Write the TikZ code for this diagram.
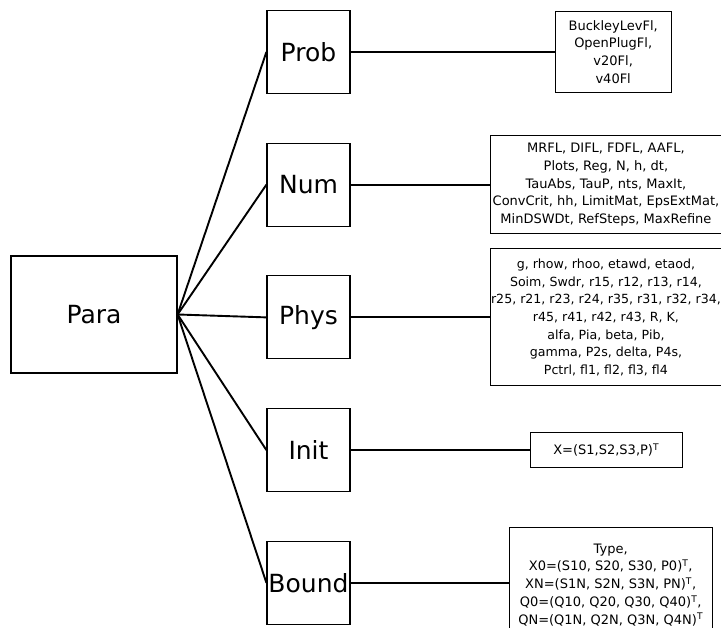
\documentclass[tikz,border=0pt]{standalone}
\usepackage{fontspec}
\setmainfont{DejaVu Sans}
\usetikzlibrary{positioning}

\begin{document}
\begin{tikzpicture}[
    x=1pt,y=1pt,
    node distance=48.5pt and 139pt,
    base/.style={draw=black,line width=1.2pt,inner sep=0pt,align=center},
    cat/.style={base,minimum width=83pt,minimum height=83pt,font=\fontsize{25}{30}\selectfont},
    info/.style={base,minimum width=#1,font=\fontsize{13}{17.7}\selectfont},
    link/.style={line width=1.9pt,black}
]
\path[use as bounding box,clip] (0,0) rectangle (721,628);

\node[cat,minimum width=166pt,minimum height=117pt] (para) at (94,313.5) {Para};
\node[cat] (prob) at (308.5,576) {Prob};
\node[cat,below=of prob] (num) {Num};
\node[cat,below=of num] (phys) {Phys};
\node[cat,below=of phys] (init) {Init};
\node[cat,below=of init] (bound) {Bound};

\node[info=116pt,minimum height=81pt,right=204pt of prob] (probtxt) {BuckleyLevFl,\\OpenPlugFl,\\v20Fl,\\v40Fl};
\node[info=231.5pt,minimum height=98pt,right=of num] (numtxt) {MRFL, DIFL, FDFL, AAFL,\\Plots, Reg, N, h, dt,\\TauAbs, TauP, nts, MaxIt,\\ConvCrit, hh, LimitMat, EpsExtMat,\\MinDSWDt, RefSteps, MaxRefine};
\node[info=231.5pt,minimum height=137pt,right=of phys,font=\fontsize{12.6}{17.7}\selectfont] (phystxt) {g, rhow, rhoo, etawd, etaod,\\Soim, Swdr, r15, r12, r13, r14,\\r25, r21, r23, r24, r35, r31, r32, r34,\\r45, r41, r42, r43, R, K,\\alfa, Pia, beta, Pib,\\gamma, P2s, delta, P4s,\\Pctrl, fl1, fl2, fl3, fl4};
\node[info=152pt,minimum height=35pt,right=179pt of init] (inittxt) {X=(S1,S2,S3,P)\textsuperscript{T}};
\node[info=203pt,minimum height=115pt,right=158pt of bound,yshift=-2pt] (boundtxt) {Type,\\X0=(S10, S20, S30, P0)\textsuperscript{T},\\XN=(S1N, S2N, S3N, PN)\textsuperscript{T},\\Q0=(Q10, Q20, Q30, Q40)\textsuperscript{T},\\QN=(Q1N, Q2N, Q3N, Q4N)\textsuperscript{T}};

\draw[link] (para.east) -- (prob.west);
\draw[link] (para.east) -- (num.west);
\draw[link] (para.east) -- (phys.west);
\draw[link] (para.east) -- (init.west);
\draw[link] (para.east) -- (bound.west);

\draw[link] (prob) -- (probtxt);
\draw[link] (num) -- (numtxt);
\draw[link] (phys) -- (phystxt);
\draw[link] (init) -- (inittxt);
\draw[link] (bound.east) -- (bound.east -| boundtxt.west);
\end{tikzpicture}
\end{document}
